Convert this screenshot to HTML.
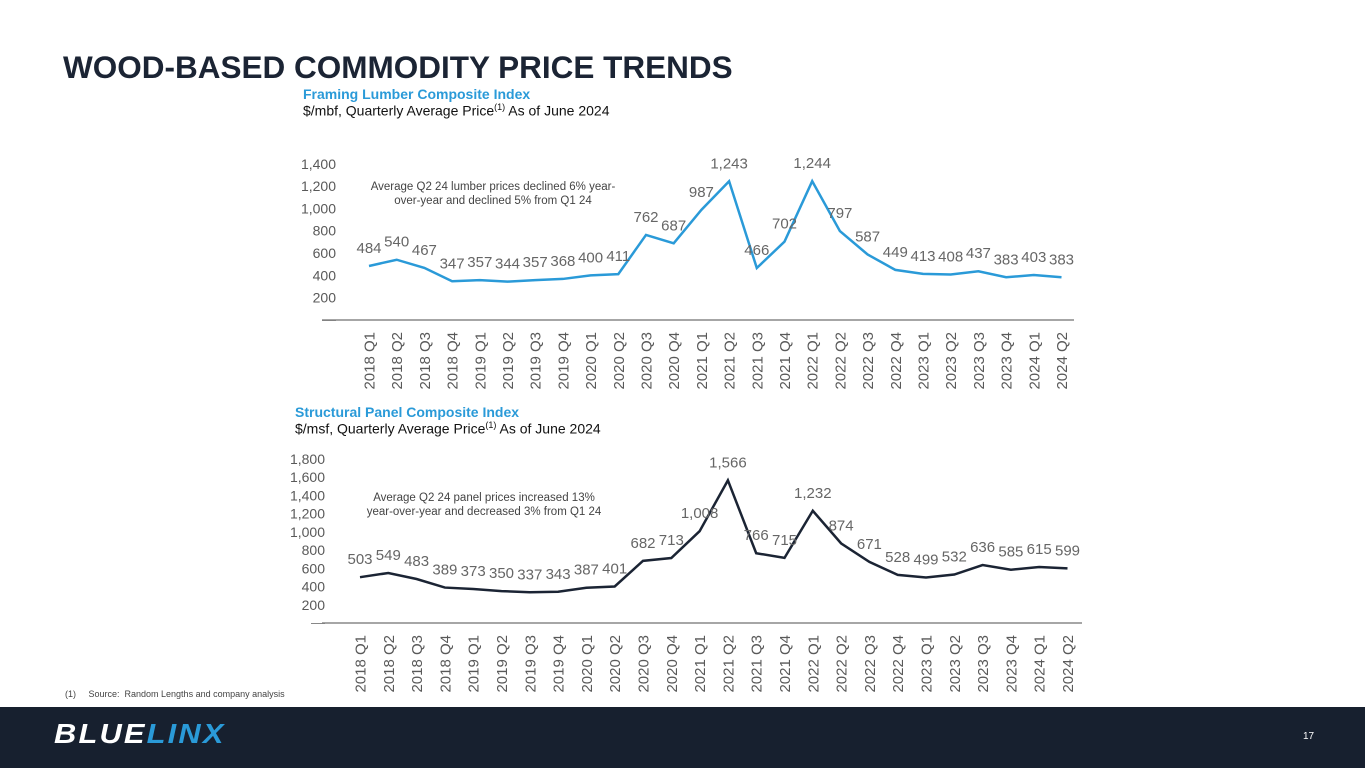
<!DOCTYPE html>
<html><head><meta charset="utf-8">
<style>
body{margin:0;width:1365px;height:768px;overflow:hidden;background:#fff;font-family:"Liberation Sans",sans-serif;position:relative}
.t{position:absolute;white-space:nowrap}
</style></head><body>
<div class="t" style="left:63px;top:49px;font-size:31.5px;font-weight:bold;color:#1b2434">WOOD-BASED COMMODITY PRICE TRENDS</div>
<div class="t" style="left:303px;top:86px;font-size:14px;font-weight:bold;color:#2a9ad8">Framing Lumber Composite Index</div>
<div class="t" style="left:303px;top:102px;font-size:14px;color:#111">$/mbf, Quarterly Average Price<sup style="font-size:9px">(1)</sup> As of June 2024</div>
<div class="t" style="left:295px;top:404px;font-size:14px;font-weight:bold;color:#2a9ad8">Structural Panel Composite Index</div>
<div class="t" style="left:295px;top:420px;font-size:14px;color:#111">$/msf, Quarterly Average Price<sup style="font-size:9px">(1)</sup> As of June 2024</div>
<svg id="c" width="1365" height="768" style="position:absolute;left:0;top:0"></svg>
<div class="t" style="left:65px;top:689px;font-size:9px;color:#444">(1)&nbsp;&nbsp;&nbsp;&nbsp;&nbsp;Source:&nbsp; Random Lengths and company analysis</div>
<div style="position:absolute;left:0;top:707px;width:1365px;height:61px;background:#17202f"></div>
<div class="t" style="left:54px;top:718px;font-size:28px;font-weight:900;font-style:italic;letter-spacing:2px;transform:scaleX(1.1);transform-origin:left"><span style="color:#fff">BLUE</span><span style="color:#2a9ad8">LINX</span></div>
<div class="t" style="left:1303px;top:731px;font-size:10px;color:#fff">17</div>
<script>
const cats=["2018 Q1","2018 Q2","2018 Q3","2018 Q4","2019 Q1","2019 Q2","2019 Q3","2019 Q4","2020 Q1","2020 Q2","2020 Q3","2020 Q4","2021 Q1","2021 Q2","2021 Q3","2021 Q4","2022 Q1","2022 Q2","2022 Q3","2022 Q4","2023 Q1","2023 Q2","2023 Q3","2023 Q4","2024 Q1","2024 Q2"];
const lumber=[484,540,467,347,357,344,357,368,400,411,762,687,987,1243,466,702,1244,797,587,449,413,408,437,383,403,383];
const panel=[503,549,483,389,373,350,337,343,387,401,682,713,1008,1566,766,715,1232,874,671,528,499,532,636,585,615,599];
const lumberTicks=[200,400,600,800,1000,1200,1400];
const panelTicks=[200,400,600,800,1000,1200,1400,1600,1800];
const svg=document.getElementById('c');
const NS='http://www.w3.org/2000/svg';
function mk(tag,attrs,parent){const e=document.createElementNS(NS,tag);for(const k in attrs)e.setAttribute(k,attrs[k]);(parent||svg).appendChild(e);return e;}
const fmt=v=>v.toLocaleString('en-US');
function chart(o){
  const g=mk('g',{});
  
  
  const x=i=>o.x0+i*o.step, y=v=>o.zero-v*o.scale;
  const ax=mk('line',{x1:o.axL,x2:o.axR,y1:o.zero,y2:o.zero,stroke:'#a6a6a6','stroke-width':2},g);
  
  
  const z=mk('text',{x:o.tickX,y:o.zero+4,'text-anchor':'end','font-size':14,fill:'#7f7f7f'},g);z.textContent='—';
  
  
  o.ticks.forEach(t=>{const e=mk('text',{x:o.tickX,y:y(t)+5,'text-anchor':'end','font-size':14,fill:'#595959'},g);e.textContent=fmt(t);
    
    });
  cats.forEach((c,i)=>{const e=mk('text',{transform:`translate(${x(i)+5.5},${o.zero+12}) rotate(-90)`,'text-anchor':'end','font-size':15,fill:'#595959'},g);e.textContent=c;
    
    });
  const p=mk('polyline',{points:o.data.map((v,i)=>x(i)+','+y(v)).join(' '),fill:'none',stroke:o.color,'stroke-width':2.5},g);
  
  
  o.data.forEach((v,i)=>{const e=mk('text',{x:x(i),y:y(v)-13,'text-anchor':'middle','font-size':15,fill:'#666'},g);e.textContent=fmt(v);
    
    });
  o.note.forEach((s,k)=>{const e=mk('text',{x:o.noteX,y:o.noteY+k*14,'text-anchor':'middle','font-size':11.5,fill:'#444'},g);e.textContent=s;
    
    });
}
chart({name:'lumber-chart',data:lumber,ticks:lumberTicks,x0:369,step:27.7,zero:320,scale:0.1116,axL:322,axR:1074,tickX:336,color:'#2a9ad8',noteX:493,noteY:190,note:['Average Q2 24 lumber prices declined 6% year-','over-year and declined 5% from Q1 24']});
chart({name:'panel-chart',data:panel,ticks:panelTicks,x0:360,step:28.3,zero:623,scale:0.0911,axL:322,axR:1082,tickX:325,color:'#1b2434',noteX:484,noteY:501,note:['Average Q2 24 panel prices increased 13%','year-over-year and decreased 3% from Q1 24']});
</script>
</body></html>
